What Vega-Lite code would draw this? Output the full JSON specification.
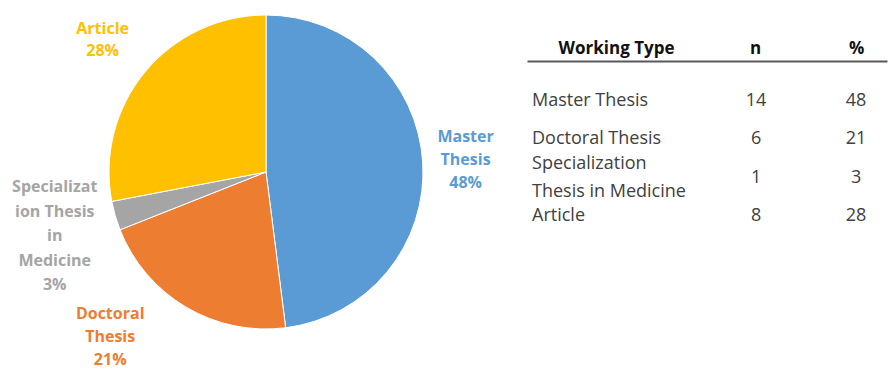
{
  "$schema": "https://vega.github.io/schema/vega-lite/v6.json",
  "padding": {"left": 5, "top": 13, "right": 0, "bottom": 0},
  "spacing": 0,
  "bounds": "flush",
  "config": {"view": {"stroke": "transparent"}, "font": "Open Sans"},
  "datasets": {
    "works": [
      {"type": "Master Thesis", "n": 14, "pct": 48, "pieLabel": "Master\nThesis", "tableLabel": "Master Thesis", "k": 1},
      {"type": "Doctoral Thesis", "n": 6, "pct": 21, "pieLabel": "Doctoral\nThesis", "tableLabel": "Doctoral Thesis", "k": 2},
      {"type": "Specialization Thesis in Medicine", "n": 1, "pct": 3, "pieLabel": "Specializat\nion Thesis\nin\nMedicine", "tableLabel": "Specialization\nThesis in Medicine", "k": 3},
      {"type": "Article", "n": 8, "pct": 28, "pieLabel": "Article", "tableLabel": "Article", "k": 4}
    ]
  },
  "hconcat": [
    {
      "width": 522,
      "height": 222,
      "data": {"name": "works"},
      "transform": [
        {"calculate": "datum.pieLabel + '\\n' + datum.pct + '%'", "as": "fullLabel"},
        {"stack": "pct", "groupby": [], "sort": [{"field": "k", "order": "ascending"}], "as": ["t0", "t1"]},
        {"calculate": "(datum.t0 + datum.t1) / 2", "as": "tMid"}
      ],
      "encoding": {
        "color": {
          "field": "type",
          "type": "nominal",
          "scale": {
            "domain": ["Master Thesis", "Doctoral Thesis", "Specialization Thesis in Medicine", "Article"],
            "range": ["#5B9BD5", "#ED7D31", "#A5A5A5", "#FFC000"]
          },
          "legend": null
        }
      },
      "layer": [
        {
          "mark": {"type": "arc", "outerRadius": 157, "stroke": "white", "strokeWidth": 1},
          "encoding": {
            "theta": {"field": "t0", "type": "quantitative", "scale": {"domain": [0, 100]}},
            "theta2": {"field": "t1"}
          }
        },
        {
          "transform": [{"filter": "datum.type === 'Master Thesis'"}],
          "mark": {"type": "text", "radius": 200, "dy": -22, "align": "center", "baseline": "middle", "lineBreak": "\n", "lineHeight": 23, "fontSize": 16, "fontWeight": "bold"},
          "encoding": {"theta": {"field": "tMid", "type": "quantitative"}, "text": {"field": "fullLabel", "type": "nominal"}}
        },
        {
          "transform": [{"filter": "datum.type === 'Article'"}],
          "mark": {"type": "text", "radius": 212, "dy": -8, "align": "center", "baseline": "middle", "lineBreak": "\n", "lineHeight": 22, "fontSize": 16, "fontWeight": "bold"},
          "encoding": {"theta": {"field": "tMid", "type": "quantitative"}, "text": {"field": "fullLabel", "type": "nominal"}}
        },
        {
          "transform": [{"filter": "datum.type === 'Specialization Thesis in Medicine'"}],
          "mark": {"type": "text", "radius": 220, "dy": -46, "align": "center", "baseline": "middle", "lineBreak": "\n", "lineHeight": 24.5, "fontSize": 16, "fontWeight": "bold"},
          "encoding": {"theta": {"field": "tMid", "type": "quantitative"}, "text": {"field": "fullLabel", "type": "nominal"}}
        },
        {
          "transform": [{"filter": "datum.type === 'Doctoral Thesis'"}],
          "mark": {"type": "text", "radius": 200, "dx": -54, "dy": -30, "align": "center", "baseline": "middle", "lineBreak": "\n", "lineHeight": 23, "fontSize": 16, "fontWeight": "bold"},
          "encoding": {"theta": {"field": "tMid", "type": "quantitative"}, "text": {"field": "fullLabel", "type": "nominal"}}
        }
      ]
    },
    {
      "width": 360,
      "height": 195,
      "data": {"name": "works"},
      "encoding": {
        "y": {
          "field": "type",
          "type": "nominal",
          "sort": ["Master Thesis", "Doctoral Thesis", "Specialization Thesis in Medicine", "Article"],
          "scale": {"type": "band", "paddingInner": 0, "paddingOuter": 0.55},
          "axis": null
        }
      },
      "layer": [
        {
          "mark": {"type": "text", "align": "left", "dx": -84, "baseline": "middle", "fontSize": 18, "color": "#404040"},
          "encoding": {
            "x": {
              "datum": "Working Type",
              "type": "nominal",
              "scale": {"type": "point", "domain": ["Working Type", "n", "%"], "padding": 0.5, "align": 0.742},
              "axis": {
                "orient": "top",
                "title": null,
                "ticks": false,
                "grid": false,
                "domainColor": "#595959",
                "domainWidth": 2,
                "labelFont": "Open Sans",
                "labelFontSize": 17,
                "labelFontWeight": "bold",
                "labelColor": "#111111",
                "labelPadding": 4,
                "labelAngle": 0,
                "labelOffset": {"condition": {"test": "datum.value === 'n'", "value": 19}, "value": 0}
              }
            },
            "text": {"condition": {"test": "datum.type !== 'Specialization Thesis in Medicine'", "field": "tableLabel", "type": "nominal"}, "value": ""}
          }
        },
        {
          "mark": {"type": "text", "align": "left", "dx": -84, "dy": -14, "baseline": "middle", "lineBreak": "\n", "lineHeight": 28, "fontSize": 18, "color": "#404040"},
          "encoding": {
            "x": {"datum": "Working Type", "type": "nominal"},
            "text": {"condition": {"test": "datum.type === 'Specialization Thesis in Medicine'", "field": "tableLabel", "type": "nominal"}, "value": ""}
          }
        },
        {
          "mark": {"type": "text", "align": "center", "dx": 20, "baseline": "middle", "fontSize": 18, "color": "#404040"},
          "encoding": {
            "x": {"datum": "n", "type": "nominal"},
            "text": {"field": "n", "type": "quantitative"}
          }
        },
        {
          "mark": {"type": "text", "align": "center", "baseline": "middle", "fontSize": 18, "color": "#404040"},
          "encoding": {
            "x": {"datum": "%", "type": "nominal"},
            "text": {"field": "pct", "type": "quantitative"}
          }
        }
      ]
    }
  ]
}
